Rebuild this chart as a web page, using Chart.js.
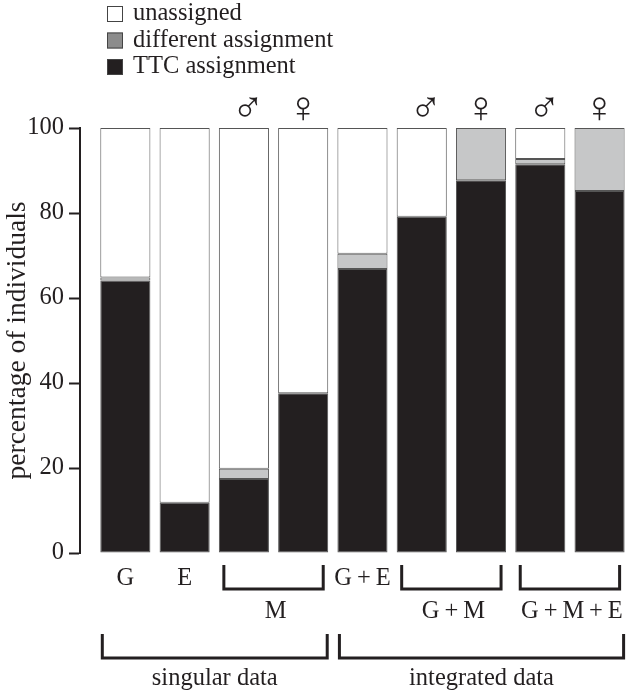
<!DOCTYPE html>
<html>
<head>
<meta charset="utf-8">
<script src="https://cdn.jsdelivr.net/npm/chart.js@4/dist/chart.umd.min.js"></script>
<style>
  html, body { margin: 0; padding: 0; background: #fff; overflow: hidden; }
  #wrap { position: relative; width: 626px; height: 692px; }
</style>
</head>
<body>
<div id="wrap"><canvas id="chart"></canvas></div>
<script>
// one bar per data-set combination, left to right
const barLabels = ["G", "E", "M", "M", "G+E", "G+M", "G+M", "G+M+E", "G+M+E"];
const sexes = ["", "", "\u2642", "\u2640", "", "\u2642", "\u2640", "\u2642", "\u2640"];

// percentages
const ttcAssignment = [64.1, 11.8, 17.4, 37.6, 66.8, 79.1, 87.7, 91.5, 85.2];
const differentAssignment = [0.7, 0, 2.4, 0, 3.6, 0, 12.3, 1.2, 14.8];
const unassigned = [35.2, 88.2, 80.2, 62.4, 29.6, 20.9, 0, 7.3, 0];

const yTicks = [0, 20, 40, 60, 80, 100];

// grouping under the axis: [first bar, last bar, text]
const subGroups = [[2, 3, "M"], [5, 6, "G\u2009+\u2009M"], [7, 8, "G\u2009+\u2009M\u2009+\u2009E"]];
const singles = [[0, "G"], [1, "E"], [4, "G\u2009+\u2009E"]];
const mainGroups = [[0, 3, "singular data"], [4, 8, "integrated data"]];

const INK = "#231f20";
const SERIF = "'Liberation Serif', 'Times New Roman', serif";
const FS = 24.5;

const legendItems = [
    { text: "unassigned", fill: "#ffffff" },
    { text: "different assignment", fill: "#8c8c8c" },
    { text: "TTC assignment", fill: INK }
];

const toPoints = arr => arr.map((v, i) => ({ x: i, y: v }));

function bracket(ctx, x1, x2, top, bottom) {
    ctx.beginPath();
    ctx.moveTo(x1, top);
    ctx.lineTo(x1, bottom);
    ctx.lineTo(x2, bottom);
    ctx.lineTo(x2, top);
    ctx.stroke();
}

const decorations = {
    id: "decorations",
    afterDraw(chart) {
        const ctx = chart.ctx;
        const bars = chart.getDatasetMeta(0).data;
        const left = i => bars[i].x - bars[i].width / 2;
        const right = i => bars[i].x + bars[i].width / 2;

        ctx.save();
        ctx.fillStyle = INK;
        ctx.strokeStyle = INK;

        // legend
        ctx.font = FS + "px " + SERIF;
        ctx.textAlign = "left";
        ctx.textBaseline = "alphabetic";
        legendItems.forEach((it, k) => {
            const cy = 14 + k * 26.5;
            ctx.fillStyle = it.fill;
            ctx.fillRect(107, cy - 8, 16, 16);
            ctx.lineWidth = 1;
            ctx.strokeStyle = "#444";
            ctx.strokeRect(107.5, cy - 7.5, 15, 15);
            ctx.fillStyle = INK;
            ctx.fillText(it.text, 133, cy + 6);
        });

        // sex symbols above bars
        ctx.font = "200 44px 'DejaVu Sans', sans-serif";
        ctx.textAlign = "center";
        ctx.textBaseline = "middle";
        sexes.forEach((s, i) => {
            if (s) ctx.fillText(s, bars[i].x + (s === "\u2642" ? 4 : 0), 111);
        });

        // labels under bars
        ctx.font = FS + "px " + SERIF;
        ctx.textBaseline = "alphabetic";
        singles.forEach(([i, t]) => ctx.fillText(t, bars[i].x, 585));

        ctx.lineWidth = 3;
        ctx.lineJoin = "miter";
        ctx.strokeStyle = INK;
        subGroups.forEach(([a, b, t]) => {
            const x1 = left(a) + 5, x2 = right(b) - 5;
            bracket(ctx, x1, x2, 565, 589);
            ctx.fillText(t, (x1 + x2) / 2 + 2, 618);
        });

        mainGroups.forEach(([a, b, t]) => {
            const x1 = left(a) + 2, x2 = right(b) - 1;
            bracket(ctx, x1, x2, 634, 658);
            ctx.fillText(t, (x1 + x2) / 2, 685);
        });

        ctx.restore();
    }
};

const barStyle = {
    borderColor: "#555555",
    borderWidth: 1,
    borderSkipped: false,
    barPercentage: 0.845,
    categoryPercentage: 1
};

new Chart(document.getElementById("chart"), {
    type: "bar",
    data: {
        labels: barLabels,
        datasets: [
            { label: "TTC assignment", data: toPoints(ttcAssignment), backgroundColor: INK, ...barStyle },
            { label: "different assignment", data: toPoints(differentAssignment), backgroundColor: "#c6c7c8", ...barStyle },
            { label: "unassigned", data: toPoints(unassigned), backgroundColor: "#ffffff", ...barStyle }
        ]
    },
    options: {
        responsive: true,
        maintainAspectRatio: false,
        animation: false,
        devicePixelRatio: 1,
        layout: { padding: { top: 128, bottom: 139, left: 0, right: 0 } },
        plugins: { legend: { display: false }, tooltip: { enabled: false } },
        scales: {
            x: {
                type: "linear",
                stacked: true,
                display: false,
                offset: false,
                min: -0.765,
                max: 8.446
            },
            y: {
                stacked: true,
                min: 0,
                max: 100,
                afterBuildTicks: s => { s.ticks = yTicks.map(v => ({ value: v })); },
                afterFit: s => { s.width = 80; },
                ticks: {
                    color: INK,
                    padding: 5,
                    font: { family: SERIF, size: FS }
                },
                grid: {
                    drawOnChartArea: false,
                    tickLength: 11,
                    tickWidth: 2,
                    tickColor: INK
                },
                border: { color: INK, width: 2 },
                title: {
                    display: true,
                    text: "percentage of individuals",
                    color: INK,
                    font: { family: SERIF, size: 27.5 },
                    padding: { top: 1, bottom: 0 }
                }
            }
        }
    },
    plugins: [decorations]
});
</script>
</body>
</html>
